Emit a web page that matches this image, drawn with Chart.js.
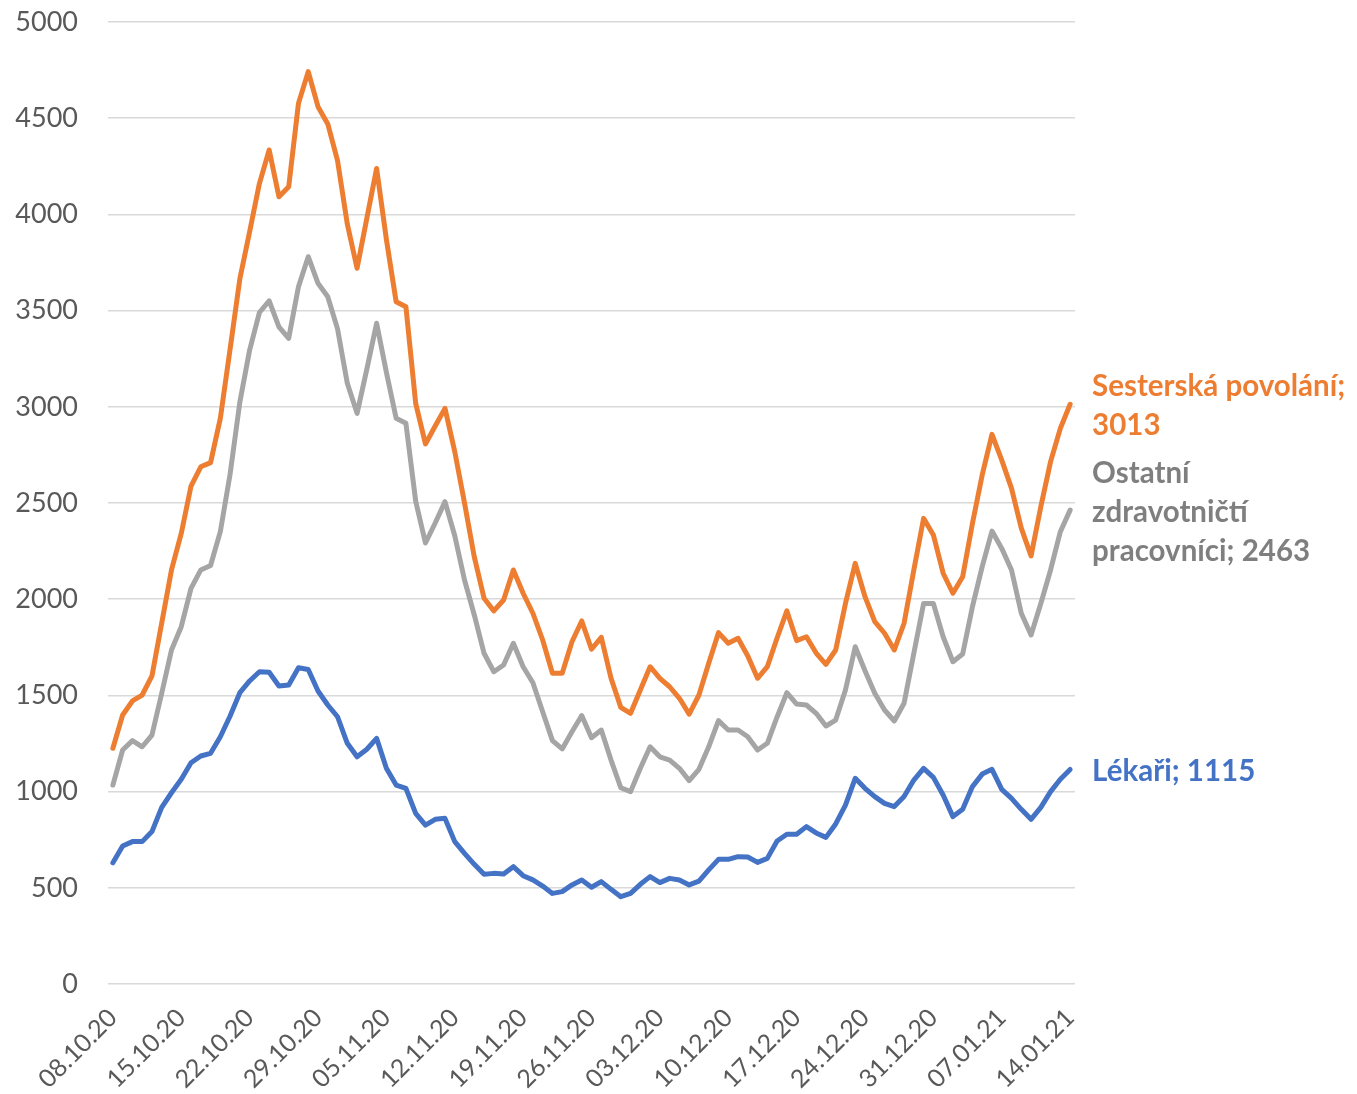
<!DOCTYPE html>
<html>
<head>
<meta charset="utf-8">
<script src="https://cdn.jsdelivr.net/npm/chart.js@4.4.1/dist/chart.umd.min.js"></script>
<style>
  html, body { margin: 0; padding: 0; background: #fff; }
  canvas { display: block; }
</style>
</head>
<body>
<canvas id="chart" width="1357" height="1094"></canvas>
<script>
// daily values 08.10.20 - 14.01.21
const firstDay = new Date(2020, 9, 8);
const dayCount = 99;

const tickLabels = [
  '08.10.20', '15.10.20', '22.10.20', '29.10.20', '05.11.20', '12.11.20', '19.11.20', '26.11.20',
  '03.12.20', '10.12.20', '17.12.20', '24.12.20', '31.12.20', '07.01.21', '14.01.21'
];
const yTicks = [0, 500, 1000, 1500, 2000, 2500, 3000, 3500, 4000, 4500, 5000];

const nurses = [
  1225, 1398, 1471, 1502, 1601, 1876, 2152, 2342, 2588, 2688, 2710, 2940, 3300, 3665,
  3910, 4160, 4335, 4092, 4144, 4577, 4742, 4560, 4470, 4280, 3950, 3720, 3980, 4239,
  3870, 3546, 3520, 3018, 2807, 2900, 2992, 2767, 2500, 2220, 2005, 1939, 1996, 2152,
  2031, 1927, 1788, 1615, 1615, 1779, 1887, 1740, 1802, 1589, 1438, 1407, 1528, 1649,
  1589, 1545, 1485, 1403, 1502, 1667, 1826, 1771, 1797, 1705, 1589, 1649, 1798, 1939,
  1785, 1805, 1720, 1661, 1736, 1978, 2186, 2013, 1883, 1823, 1736, 1875, 2152, 2420,
  2334, 2135, 2031, 2117, 2394, 2646, 2857, 2723, 2576, 2369, 2225, 2481, 2715, 2888,
  3013
];
const others = [
  1034, 1216, 1265, 1233, 1294, 1511, 1736, 1857, 2056, 2152, 2175, 2351, 2650, 3025,
  3295, 3490, 3551, 3416, 3356, 3624, 3780, 3642, 3572, 3405, 3122, 2966, 3196, 3434,
  3180, 2940, 2914, 2510, 2292, 2396, 2507, 2330, 2100, 1918, 1719, 1623, 1658, 1771,
  1649, 1566, 1415, 1265, 1222, 1311, 1395, 1280, 1320, 1164, 1020, 1000, 1121, 1233,
  1181, 1164, 1121, 1057, 1116, 1233, 1369, 1320, 1320, 1285, 1216, 1251, 1388, 1514,
  1455, 1450, 1407, 1341, 1372, 1528, 1753, 1628, 1511, 1424, 1367, 1459, 1719, 1978,
  1978, 1805, 1675, 1715, 1961, 2169, 2354, 2264, 2152, 1927, 1814, 1978, 2152, 2351,
  2463
];
const doctors = [
  630, 717, 740, 740, 792, 918, 994, 1064, 1150, 1185, 1199, 1285, 1393, 1514,
  1575, 1623, 1620, 1549, 1554, 1644, 1635, 1523, 1450, 1389, 1251, 1181, 1220, 1277,
  1121, 1034, 1017, 887, 826, 856, 861, 740, 679, 622, 570, 575, 572, 610,
  563, 541, 509, 471, 480, 515, 541, 503, 532, 492, 454, 471, 518, 558,
  527, 549, 541, 515, 535, 593, 648, 648, 662, 660, 632, 653, 743, 778,
  778, 818, 785, 762, 832, 930, 1069, 1017, 974, 939, 922, 974, 1060, 1121,
  1074, 982, 870, 908, 1026, 1091, 1116, 1012, 965, 908, 856, 918, 1000, 1064,
  1115
];

const seriesNames = ['Sesterská povolání', 'Ostatní zdravotničtí pracovníci', 'Lékaři'];
const endLabelLines = [
  ['Sesterská povolání;', '3013'],
  ['Ostatní', 'zdravotničtí', 'pracovníci; 2463'],
  ['Lékaři; 1115']
];
const lineColors = ['#ED7D31', '#A5A5A5', '#4472C4'];
const textColors = ['#ED7D31', '#7F7F7F', '#4472C4'];

const pad2 = n => String(n).padStart(2, '0');
const days = [];
for (let i = 0; i < dayCount; i++) {
  const d = new Date(firstDay.getFullYear(), firstDay.getMonth(), firstDay.getDate() + i);
  days.push(pad2(d.getDate()) + '.' + pad2(d.getMonth() + 1) + '.' + pad2(d.getFullYear() % 100));
}

// last-point labels, like Excel data labels on the right
const endLabels = {
  id: 'endLabels',
  afterDatasetsDraw(chart) {
    const ctx = chart.ctx;
    chart.data.datasets.forEach((ds, i) => {
      const meta = chart.getDatasetMeta(i);
      const pt = meta.data[meta.data.length - 1];
      const lines = endLabelLines[i];
      const lh = 39;
      ctx.save();
      ctx.font = 'bold 29.5px Lato';
      ctx.fillStyle = textColors[i];
      ctx.textAlign = 'left';
      ctx.textBaseline = 'middle';
      let y = pt.y + 2 - (lines.length - 1) * lh / 2;
      lines.forEach(line => {
        ctx.fillText(line, pt.x + 22, y);
        y += lh;
      });
      ctx.restore();
    });
  }
};

Chart.defaults.font.family = 'Lato';
Chart.defaults.color = '#595959';

new Chart(document.getElementById('chart'), {
  type: 'line',
  data: {
    labels: days,
    datasets: [nurses, others, doctors].map((data, i) => ({
      label: seriesNames[i],
      data: data,
      borderColor: lineColors[i],
      backgroundColor: lineColors[i],
      borderWidth: 5,
      borderJoinStyle: 'round',
      borderCapStyle: 'round',
      pointRadius: 0,
      tension: 0,
      fill: false
    }))
  },
  options: {
    responsive: false,
    animation: false,
    layout: { padding: { top: 22, right: 282, left: 0, bottom: 0 } },
    plugins: {
      legend: { display: false },
      tooltip: { enabled: false }
    },
    scales: {
      x: {
        offset: true,
        grid: { display: false },
        border: { display: false },
        ticks: {
          autoSkip: false,
          minRotation: 45,
          maxRotation: 45,
          padding: 11,
          font: { size: 25 },
          color: '#595959',
          callback: function (value) {
            const l = this.getLabelForValue(value);
            return tickLabels.includes(l) ? l : null;
          }
        },
        afterFit: s => { s.height = 110; }
      },
      y: {
        min: 0,
        max: 5000,
        border: { display: false },
        grid: { color: '#D9D9D9', lineWidth: 1.5, drawTicks: false },
        afterBuildTicks: s => { s.ticks = yTicks.map(v => ({ value: v })); },
        ticks: {
          padding: 30,
          font: { size: 27 },
          color: '#595959',
          callback: v => String(v)
        },
        afterFit: s => {
          s.width = 108;
          s.paddingTop = 0;
          s.paddingBottom = 0;
        }
      }
    }
  },
  plugins: [endLabels]
});
</script>
</body>
</html>
